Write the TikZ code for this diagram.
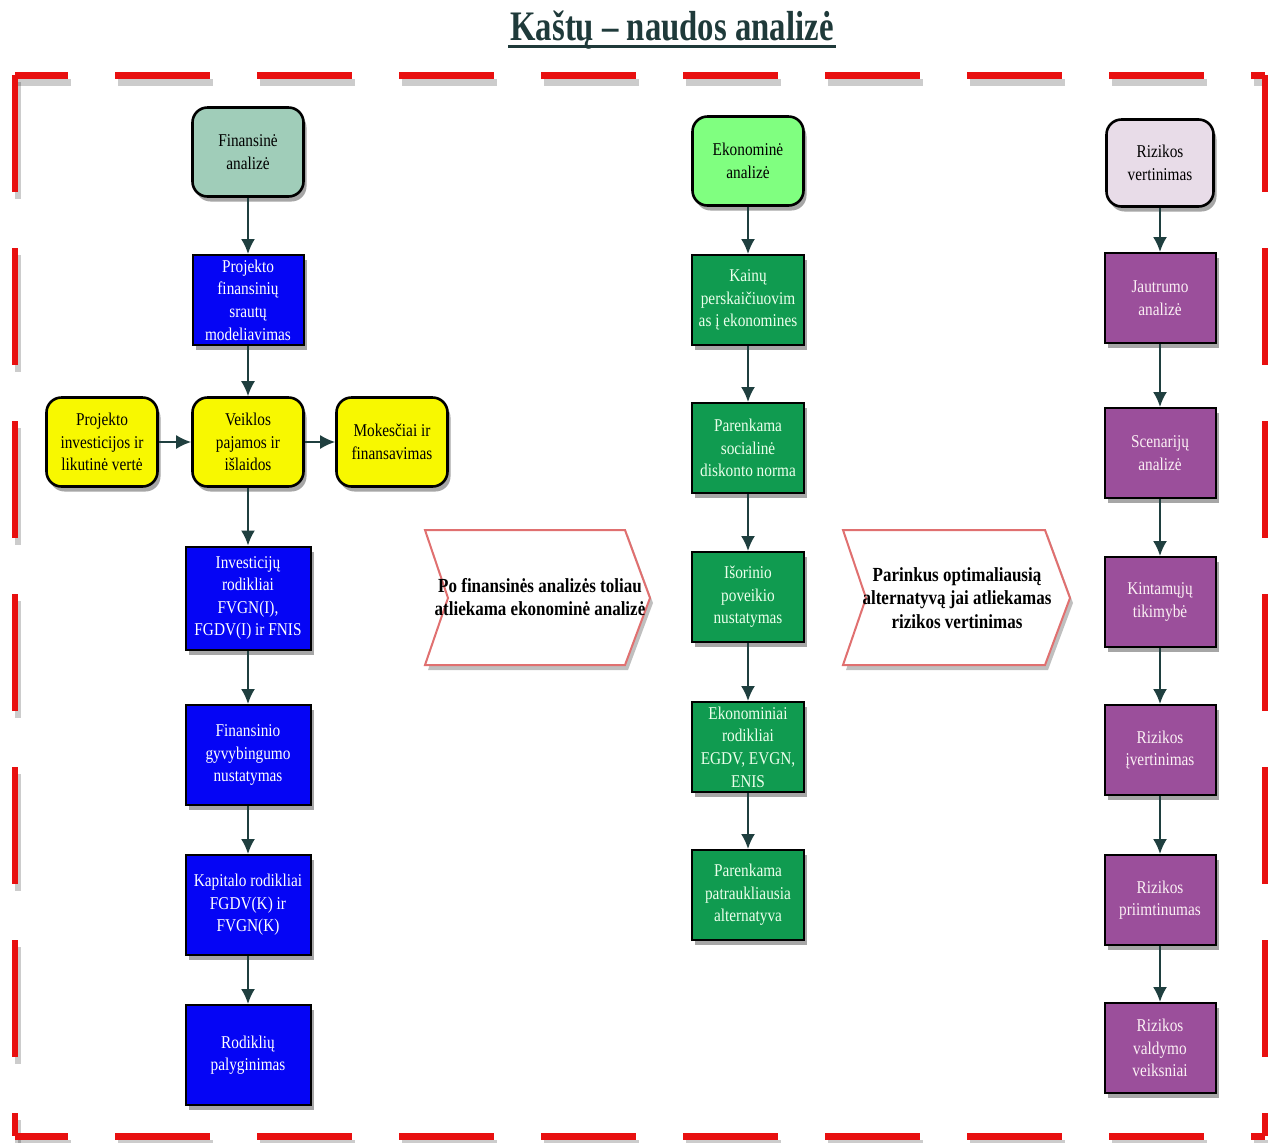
\documentclass[tikz,border=0pt]{standalone}
\usepackage{fontspec}
\setmainfont{Liberation Serif}[FakeStretch=0.85]
\newfontfamily\titlefont{Liberation Serif}[FakeStretch=0.78]
\usetikzlibrary{arrows.meta,shadows}
\definecolor{finfill}{HTML}{A0CDB9}
\definecolor{ekfill}{HTML}{80FF80}
\definecolor{rizfill}{HTML}{E8DCE8}
\definecolor{bluebox}{HTML}{0505F5}
\definecolor{greenbox}{HTML}{109B50}
\definecolor{purplebox}{HTML}{9B4F9B}
\definecolor{yellowbox}{HTML}{F8F800}
\definecolor{arrowcol}{HTML}{1F3F3F}
\definecolor{titlecol}{HTML}{1F3A3A}
\definecolor{chevline}{HTML}{E07070}
\definecolor{bordercol}{HTML}{E81010}
\begin{document}
\begin{tikzpicture}[x=0.5pt,y=-0.5pt,
  base/.style={align=center,inner sep=1pt,font=\fontsize{9}{11.3}\selectfont,
    drop shadow={shadow xshift=1.5pt,shadow yshift=-2.5pt,fill=black,opacity=0.35}},
  topbox/.style={base,draw=black,line width=1.3pt,rounded corners=7.5pt,
    minimum width=55.5pt,minimum height=44.5pt,text=black},
  smallbox/.style={base,draw=black,line width=1pt,minimum width=55.5pt,minimum height=45pt},
  bigbox/.style={base,draw=black,line width=1pt,minimum width=62.5pt,minimum height=50pt},
  bluestep/.style={fill=bluebox,text=white},
  greenstep/.style={smallbox,fill=greenbox,text=green!8!white,minimum width=56pt},
  purplestep/.style={smallbox,fill=purplebox,text=purple!6!white},
  yellowstep/.style={topbox,fill=yellowbox},
  arr/.style={draw=arrowcol,line width=1pt,-{Latex[length=7.5pt,width=7pt]}},
  chev/.style={draw=chevline,line width=1pt,fill=white,
    drop shadow={shadow xshift=1.5pt,shadow yshift=-2.5pt,fill=black,opacity=0.25}},
  chevtext/.style={align=center,font=\fontsize{10}{11.8}\selectfont\bfseries,inner sep=1pt},
  hdash/.style={line width=3.5pt,dash pattern=on 47.5pt off 23.5pt,dash phase=21pt},
  vdash/.style={line width=3pt,dash pattern=on 58.5pt off 28pt,dash phase=0pt},
  redline/.style={draw=bordercol},
  shadowline/.style={draw=black,opacity=0.2}
]
\useasboundingbox (0,0) rectangle (1270,1142);
% title
\node[inner sep=1pt] (title) at (672,30) {\titlefont\fontsize{21}{24}\selectfont\bfseries\color{titlecol}Kaštų – naudos analizė};
\coordinate (ul1) at (title.base west);
\coordinate (ul2) at (title.base east);
\draw[titlecol,line width=1.5pt] ([yshift=-3pt]ul1) -- ([yshift=-3pt]ul2);
% dashed border
\coordinate (b1) at (15,75);
\coordinate (b2) at (1265,75);
\coordinate (b3) at (1265,1136);
\coordinate (b4) at (15,1136);
\draw[shadowline,hdash] ([xshift=1.5pt,yshift=-3.5pt]b1) -- ([xshift=1.5pt,yshift=-3.5pt]b2);
\draw[shadowline,hdash] ([xshift=1.5pt,yshift=-3.5pt]b4) -- ([xshift=1.5pt,yshift=-3.5pt]b3);
\draw[shadowline,vdash] ([xshift=1.5pt,yshift=-3.5pt]b1) -- ([xshift=1.5pt,yshift=-3.5pt]b4);
\draw[redline,hdash] (b1) -- (b2);
\draw[redline,hdash] (b4) -- (b3);
\draw[redline,vdash] (b1) -- (b4);
\draw[redline,vdash] (b2) -- (b3);
% left column
\node[topbox,fill=finfill] (fin) at (248,152) {Finansinė\\analizė};
\node[smallbox,bluestep] (pfs) at (248,300) {Projekto\\finansinių\\srautų\\modeliavimas};
\node[yellowstep] (pi) at (102,442) {Projekto\\investicijos ir\\likutinė vertė};
\node[yellowstep] (ve) at (248,442) {Veiklos\\pajamos ir\\išlaidos};
\node[yellowstep] (mo) at (392,442) {Mokesčiai ir\\finansavimas};
\node[bigbox,bluestep,minimum height=51.5pt] (inv) at (248,598) {Investicijų\\rodikliai\\FVGN(I),\\FGDV(I) ir FNIS};
\node[bigbox,bluestep] (fgy) at (248,755) {Finansinio\\gyvybingumo\\nustatymas};
\node[bigbox,bluestep] (kap) at (248,905) {Kapitalo rodikliai\\FGDV(K) ir\\FVGN(K)};
\node[bigbox,bluestep] (rod) at (248,1055) {Rodiklių\\palyginimas};
\draw[arr] (fin) -- (pfs);
\draw[arr] (pfs) -- (ve);
\draw[arr] (pi) -- (ve);
\draw[arr] (ve) -- (mo);
\draw[arr] (ve) -- (inv);
\draw[arr] (inv) -- (fgy);
\draw[arr] (fgy) -- (kap);
\draw[arr] (kap) -- (rod);
% middle column
\node[topbox,fill=ekfill] (ek) at (748,161) {Ekonominė\\analizė};
\node[greenstep] (kai) at (748,300) {Kainų\\perskaičiuovim\\as į ekonomines};
\node[greenstep] (par) at (748,448) {Parenkama\\socialinė\\diskonto norma};
\node[greenstep] (iso) at (748,597) {Išorinio\\poveikio\\nustatymas};
\node[greenstep] (ekr) at (748,747) {Ekonominiai\\rodikliai\\EGDV, EVGN,\\ENIS};
\node[greenstep] (pat) at (748,895) {Parenkama\\patraukliausia\\alternatyva};
\draw[arr] (ek) -- (kai);
\draw[arr] (kai) -- (par);
\draw[arr] (par) -- (iso);
\draw[arr] (iso) -- (ekr);
\draw[arr] (ekr) -- (pat);
% right column
\node[topbox,fill=rizfill,minimum width=53.5pt,minimum height=43.5pt] (riz) at (1160,163) {Rizikos\\vertinimas};
\node[purplestep] (jau) at (1160,298) {Jautrumo\\analizė};
\node[purplestep] (sce) at (1160,453) {Scenarijų\\analizė};
\node[purplestep] (kin) at (1160,602) {Kintamųjų\\tikimybė};
\node[purplestep] (riv) at (1160,750) {Rizikos\\įvertinimas};
\node[purplestep] (rpr) at (1160,900) {Rizikos\\priimtinumas};
\node[purplestep] (rva) at (1160,1048) {Rizikos\\valdymo\\veiksniai};
\draw[arr] (riz) -- (jau);
\draw[arr] (jau) -- (sce);
\draw[arr] (sce) -- (kin);
\draw[arr] (kin) -- (riv);
\draw[arr] (riv) -- (rpr);
\draw[arr] (rpr) -- (rva);
% chevrons
\path[chev] (425,530) -- (625,530) -- (650,598) -- (625,665) -- (425,665) -- (448,598) -- cycle;
\node[chevtext] (c1) at (540,597) {Po finansinės analizės toliau\\atliekama ekonominė analizė};
\path[chev] (843,530) -- (1045,530) -- (1070,598) -- (1045,665) -- (843,665) -- (866,598) -- cycle;
\node[chevtext] (c2) at (957,598) {Parinkus optimaliausią\\alternatyvą jai atliekamas\\rizikos vertinimas};
\end{tikzpicture}
\end{document}
